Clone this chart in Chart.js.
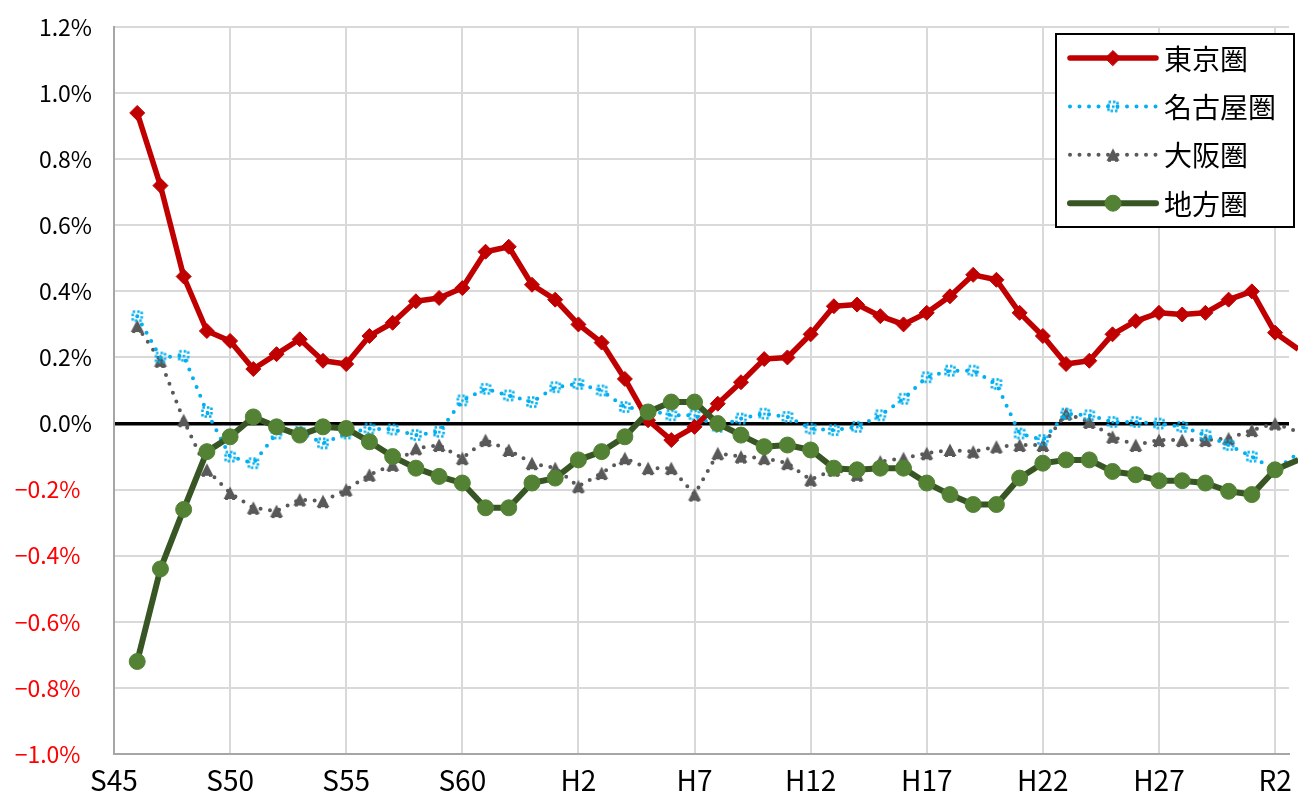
<!DOCTYPE html>
<html lang="ja">
<head>
<meta charset="utf-8">
<title>圏域別人口増減率</title>
<script src="https://cdn.jsdelivr.net/npm/chart.js@4.4.1/dist/chart.umd.min.js"></script>
<style>
    html, body { margin: 0; padding: 0; background: #fff; }
    #wrap { width: 1298px; height: 796px; overflow: hidden; }
</style>
</head>
<body>
<div id="wrap"><canvas id="areaChart" width="1298" height="796"></canvas></div>
<script>
// Years S46 (1971) .. R3 (2021)
const years = [
    1971, 1972, 1973, 1974, 1975, 1976, 1977, 1978, 1979, 1980,
    1981, 1982, 1983, 1984, 1985, 1986, 1987, 1988, 1989, 1990,
    1991, 1992, 1993, 1994, 1995, 1996, 1997, 1998, 1999, 2000,
    2001, 2002, 2003, 2004, 2005, 2006, 2007, 2008, 2009, 2010,
    2011, 2012, 2013, 2014, 2015, 2016, 2017, 2018, 2019, 2020, 2021
];

// Tick positions and their era labels
const tickYears = [1970, 1975, 1980, 1985, 1990, 1995, 2000, 2005, 2010, 2015, 2020];
const tickLabels = ['S45', 'S50', 'S55', 'S60', 'H2', 'H7', 'H12', 'H17', 'H22', 'H27', 'R2'];

const seriesNames = ['東京圏', '名古屋圏', '大阪圏', '地方圏'];

// Values in percent
const tokyo = [
    0.94, 0.72, 0.445, 0.28, 0.25, 0.165, 0.21, 0.255, 0.19, 0.18,
    0.265, 0.305, 0.37, 0.38, 0.41, 0.52, 0.535, 0.42, 0.375, 0.30,
    0.245, 0.135, 0.01, -0.05, -0.01, 0.06, 0.125, 0.195, 0.20, 0.27,
    0.355, 0.36, 0.325, 0.30, 0.335, 0.385, 0.45, 0.435, 0.335, 0.265,
    0.18, 0.19, 0.27, 0.31, 0.335, 0.33, 0.335, 0.375, 0.40, 0.275, 0.225
];
const nagoya = [
    0.325, 0.20, 0.205, 0.035, -0.10, -0.12, -0.03, -0.025, -0.06, -0.03,
    -0.015, -0.018, -0.035, -0.025, 0.07, 0.105, 0.085, 0.065, 0.11, 0.12,
    0.10, 0.05, 0.04, 0.025, 0.025, -0.01, 0.015, 0.03, 0.02, -0.015,
    -0.02, -0.01, 0.025, 0.075, 0.14, 0.16, 0.16, 0.12, -0.03, -0.05,
    0.03, 0.025, 0.005, 0.005, 0.0, -0.01, -0.035, -0.065, -0.10, -0.14, -0.09
];
const osaka = [
    0.295, 0.19, 0.01, -0.14, -0.21, -0.255, -0.265, -0.23, -0.235, -0.20,
    -0.155, -0.125, -0.075, -0.065, -0.105, -0.05, -0.08, -0.12, -0.135, -0.19,
    -0.15, -0.105, -0.135, -0.135, -0.215, -0.09, -0.10, -0.105, -0.12, -0.17,
    -0.14, -0.155, -0.115, -0.105, -0.09, -0.08, -0.085, -0.07, -0.065, -0.065,
    0.03, 0.005, -0.04, -0.065, -0.05, -0.05, -0.05, -0.045, -0.02, 0.0, -0.025
];
const chiho = [
    -0.72, -0.44, -0.26, -0.085, -0.04, 0.02, -0.01, -0.035, -0.01, -0.015,
    -0.055, -0.10, -0.135, -0.16, -0.18, -0.255, -0.255, -0.18, -0.165, -0.11,
    -0.085, -0.04, 0.035, 0.065, 0.065, 0.0, -0.035, -0.07, -0.065, -0.08,
    -0.135, -0.14, -0.135, -0.135, -0.18, -0.215, -0.245, -0.245, -0.165, -0.12,
    -0.11, -0.11, -0.145, -0.155, -0.173, -0.173, -0.18, -0.205, -0.215, -0.14, -0.11
];

const JP_FONT = '"Noto Sans CJK JP", "Noto Sans", sans-serif';

// little dotted square used by Excel for the Nagoya markers
function makeDottedSquare(color) {
    const c = document.createElement('canvas');
    c.width = 14; c.height = 14;
    const g = c.getContext('2d');
    g.strokeStyle = color;
    g.lineWidth = 2.5;
    g.setLineDash([2.5, 2]);
    g.strokeRect(2.5, 2.5, 9, 9);
    g.fillStyle = color;
    g.fillRect(6, 6, 2.5, 2.5);
    return c;
}

// ragged grey triangle for the Osaka markers
function makeTriangle(color) {
    const c = document.createElement('canvas');
    c.width = 16; c.height = 16;
    const g = c.getContext('2d');
    g.fillStyle = color;
    g.beginPath();
    g.moveTo(8, 1.5);
    g.lineTo(14.5, 14);
    g.lineTo(1.5, 14);
    g.closePath();
    g.fill();
    g.fillRect(3, 11, 3, 4);
    g.fillRect(10, 11, 3, 4);
    return c;
}

function toPoints(values) {
    return years.map((yr, i) => ({ x: yr, y: values[i] }));
}

// Legend box drawn like the Excel one (line + marker sample)
const boxLegend = {
    id: 'boxLegend',
    afterDraw(chart) {
        const ctx = chart.ctx;
        const x0 = chart.width - 242, y0 = 34, w = 238, h = 193;
        ctx.save();
        ctx.fillStyle = '#fff';
        ctx.fillRect(x0, y0, w, h);
        ctx.strokeStyle = '#000';
        ctx.lineWidth = 2;
        ctx.strokeRect(x0, y0, w, h);
        chart.data.datasets.forEach((ds, i) => {
            const y = y0 + 24 + i * 48.4;
            ctx.beginPath();
            ctx.strokeStyle = ds.borderColor;
            ctx.lineWidth = ds.borderWidth;
            ctx.lineCap = 'round';
            ctx.setLineDash(ds.borderDash || []);
            ctx.moveTo(x0 + 14, y);
            ctx.lineTo(x0 + 100, y);
            ctx.stroke();
            ctx.setLineDash([]);
            ctx.fillStyle = ds.pointBackgroundColor;
            ctx.strokeStyle = ds.pointBorderColor;
            ctx.lineWidth = ds.pointBorderWidth;
            Chart.helpers.drawPoint(ctx, {
                pointStyle: ds.pointStyle,
                radius: ds.pointRadius,
                borderWidth: ds.pointBorderWidth,
                rotation: 0
            }, x0 + 57, y);
            ctx.fillStyle = '#000';
            ctx.font = '28px ' + JP_FONT;
            ctx.textBaseline = 'middle';
            ctx.textAlign = 'left';
            ctx.fillText(ds.label, x0 + 108, y + 1);
        });
        ctx.restore();
    }
};

function initAreaChart() {
    const canvas = document.getElementById('areaChart');
    if (!canvas) return null;
    const ctx = canvas.getContext('2d');

    return new Chart(ctx, {
        type: 'line',
        data: {
            datasets: [
                {
                    label: seriesNames[0],
                    data: toPoints(tokyo),
                    borderColor: '#C00000',
                    borderWidth: 5.5,
                    pointStyle: 'rectRot',
                    pointRadius: 7.5,
                    pointBackgroundColor: '#C00000',
                    pointBorderColor: '#C00000',
                    pointBorderWidth: 1,
                    clip: false,
                    order: 1
                },
                {
                    label: seriesNames[1],
                    data: toPoints(nagoya),
                    borderColor: '#00B0F0',
                    borderWidth: 4,
                    borderDash: [0, 9.5],
                    borderCapStyle: 'round',
                    pointStyle: makeDottedSquare('#00B0F0'),
                    pointRadius: 7,
                    pointBackgroundColor: '#00B0F0',
                    pointBorderColor: '#00B0F0',
                    pointBorderWidth: 0,
                    clip: false,
                    order: 2
                },
                {
                    label: seriesNames[2],
                    data: toPoints(osaka),
                    borderColor: '#595959',
                    borderWidth: 4,
                    borderDash: [0, 9.5],
                    borderCapStyle: 'round',
                    pointStyle: makeTriangle('#595959'),
                    pointRadius: 8,
                    pointBackgroundColor: '#595959',
                    pointBorderColor: '#595959',
                    pointBorderWidth: 0,
                    clip: false,
                    order: 3
                },
                {
                    label: seriesNames[3],
                    data: toPoints(chiho),
                    borderColor: '#375623',
                    borderWidth: 6,
                    pointStyle: 'circle',
                    pointRadius: 8,
                    pointBackgroundColor: '#548235',
                    pointBorderColor: '#548235',
                    pointBorderWidth: 1,
                    clip: false,
                    order: 0
                }
            ]
        },
        plugins: [boxLegend],
        options: {
            responsive: false,
            animation: false,
            events: [],
            layout: { padding: { top: 27, right: 0, left: 0, bottom: 0 } },
            plugins: {
                legend: { display: false },
                tooltip: { enabled: false }
            },
            elements: {
                line: { tension: 0, borderJoinStyle: 'round' }
            },
            scales: {
                x: {
                    type: 'linear',
                    min: 1970,
                    max: 2020.6,
                    afterBuildTicks: (scale) => {
                        scale.ticks = tickYears.map(v => ({ value: v }));
                    },
                    afterFit: (scale) => {
                        scale.height = 42;
                        scale.paddingLeft = 0;
                        scale.paddingRight = 0;
                    },
                    ticks: {
                        autoSkip: false,
                        maxRotation: 0,
                        padding: 10,
                        color: '#000',
                        font: { family: '"Liberation Sans Narrow", ' + JP_FONT, size: 28 },
                        callback: function(value) {
                            const idx = tickYears.indexOf(value);
                            return idx >= 0 ? tickLabels[idx] : '';
                        }
                    },
                    grid: {
                        color: '#D9D9D9',
                        lineWidth: 2,
                        drawTicks: false
                    },
                    border: { color: '#A6A6A6', width: 2 }
                },
                y: {
                    min: -1.0,
                    max: 1.2,
                    afterFit: (scale) => {
                        scale.width = 114;
                        scale.paddingTop = 0;
                        scale.paddingBottom = 0;
                    },
                    ticks: {
                        stepSize: 0.2,
                        padding: 22,
                        font: { family: JP_FONT, size: 23 },
                        color: (c) => (c.tick && c.tick.value < -1e-9) ? '#FF0000' : '#000',
                        callback: function(value) {
                            const v = Math.abs(value) < 1e-9 ? 0 : value;
                            if (v < 0) return '\u2212' + Math.abs(v).toFixed(1) + '%\u2002';
                            return v.toFixed(1) + '%';
                        }
                    },
                    grid: {
                        drawTicks: false,
                        color: (c) => (c.tick && Math.abs(c.tick.value) < 1e-9) ? '#000' : '#D9D9D9',
                        lineWidth: (c) => (c.tick && Math.abs(c.tick.value) < 1e-9) ? 3.5 : 2
                    },
                    border: { color: '#A6A6A6', width: 2 }
                }
            }
        }
    });
}

document.addEventListener('DOMContentLoaded', () => {
    initAreaChart();
});
</script>
</body>
</html>
